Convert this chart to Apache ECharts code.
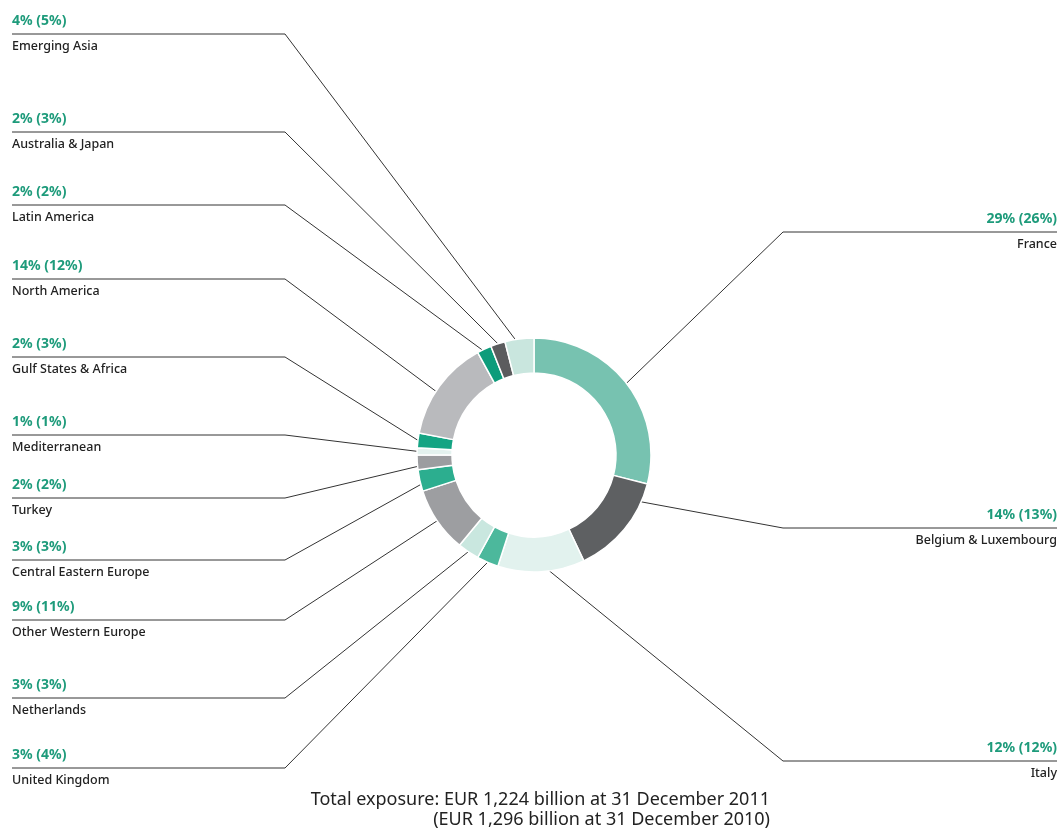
<!DOCTYPE html>
<html><head><meta charset="utf-8">
<script src="https://cdn.jsdelivr.net/npm/echarts@6/dist/echarts.min.js"></script>
<style>html,body{margin:0;padding:0;background:#fff}#c{width:1060px;height:830px}</style>
</head><body><div id="c"></div>
<script>
const categories = ['France','Belgium & Luxembourg','Italy','United Kingdom','Netherlands','Other Western Europe','Central Eastern Europe','Turkey','Mediterranean','Gulf States & Africa','North America','Latin America','Australia & Japan','Emerging Asia'];
const share2011 = [29,14,12,3,3,9,3,2,1,2,14,2,2,4];
const share2010 = [26,13,12,4,3,11,3,2,1,3,12,2,3,5];
const footnoteLines = ['Total exposure: EUR 1,224 billion at 31 December 2011','(EUR 1,296 billion at 31 December 2010)'];

// layout (not data): label line y, side, and leader anchor shift (degrees) per slice
const labelLineY = [232,528,761,768,698,620,560,498,435,357,279,205,132,34];
const labelSide  = ['r','r','r','l','l','l','l','l','l','l','l','l','l','l'];
const anchorShift = [0,-16,-4,0,0,0,-2,-2,0,0,-3,-1,0,-2];
const colors = ['#77c2b0','#5e6062','#e2f2ee','#4cb89c','#c9e7df','#9d9ea1','#2cae8f','#9c9da0','#e4f2ef','#14a483','#b9babd','#0d9c7b','#5b5c5e','#c9e6de'];
const CENTER = [534,455];

const chart = echarts.init(document.getElementById('c'));
chart.setOption({
  animation:false,
  textStyle:{fontFamily:'Noto Sans'},
  graphic:[
    {type:'text', right:290, top:791, style:{text:footnoteLines[0], font:'18px "Noto Sans"', fill:'#222', align:'right'}},
    {type:'text', right:290, top:811, style:{text:footnoteLines[1], font:'18px "Noto Sans"', fill:'#222', align:'right'}}
  ],
  series:[{
    type:'pie',
    center:CENTER,
    radius:[82,117],
    startAngle:90,
    clockwise:true,
    silent:true,
    itemStyle:{borderColor:'#fff', borderWidth:1.5},
    data: categories.map((c,i)=>({name:c, value:share2011[i], prev:share2010[i], itemStyle:{color:colors[i]}})),
    label:{
      show:true,
      position:'outside',
      formatter:p=>'{p|'+p.data.value+'% ('+p.data.prev+'%)}\n{n|'+p.name+'}',
      rich:{
        p:{color:'#1e9b7b', fontWeight:'bold', fontSize:14, lineHeight:25, fontFamily:'Noto Sans'},
        n:{color:'#222', fontSize:12.5, fontWeight:500, lineHeight:25, fontFamily:'Noto Sans'}
      }
    },
    labelLine:{show:true, length:10, length2:10, lineStyle:{color:'#333', width:1}},
    labelLayout: function(params){
      const i = params.dataIndex;
      const y = labelLineY[i];
      const left = labelSide[i]==='l';
      let p0 = params.labelLinePoints ? params.labelLinePoints[0] : CENTER;
      const a = anchorShift[i]*Math.PI/180;
      const dx = p0[0]-CENTER[0], dy = p0[1]-CENTER[1];
      p0 = [CENTER[0] + dx*Math.cos(a) - dy*Math.sin(a), CENTER[1] + dx*Math.sin(a) + dy*Math.cos(a)];
      return {
        x: left ? 12 : 1057,
        y: y,
        align: left ? 'left' : 'right',
        verticalAlign:'middle',
        labelLinePoints:[p0, [left?285:783, y], [left?12:1057, y]]
      };
    }
  }]
});
</script></body></html>
